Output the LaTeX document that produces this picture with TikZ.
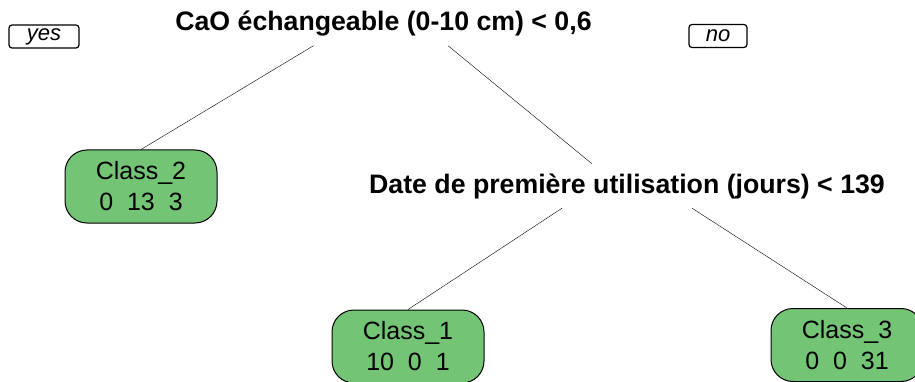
\documentclass[tikz,border=0pt]{standalone}
\usepackage{fontspec}
\setmainfont{Liberation Sans}
\usepackage{tikz}
\definecolor{leafgreen}{RGB}{116,196,118}
\tikzset{
  leaf/.style={draw, line width=1pt, fill=leafgreen, rounded corners=22pt,
    minimum width=152pt, minimum height=73pt, align=center, inner sep=0pt,
    font=\fontsize{25}{31}\selectfont},
  split/.style={inner sep=0pt, minimum height=44pt,
    font=\fontsize{26.7}{30}\selectfont\bfseries},
  yesno/.style={draw, line width=1.2pt, rounded corners=3pt, minimum height=23pt,
    inner sep=0pt, font=\fontsize{22}{24}\selectfont\itshape},
}

\begin{document}
\begin{tikzpicture}[x=1pt, y=-1pt]
    \useasboundingbox (0,0) rectangle (915,382);

    \node [split] (root) at (383.5,23.5) {CaO échangeable (0-10 cm) < 0,6};
    \node [split] (date) at (627,186) {Date de première utilisation (jours) < 139};

    \node [yesno, minimum width=70pt] (yes) at (44,36.5) {yes};
    \node [yesno, minimum width=58pt] (no) at (718,36) {no};

    \node [leaf] (class2) at (141,186.5) {Class\_2\\0~~13~~3};
    \node [leaf] (class1) at (408,346.5) {Class\_1\\10~~0~~1};
    \node [leaf] (class3) at (847,345) {Class\_3\\0~~0~~31};

    \draw ([xshift=-70pt]root.south) -- (class2.north);
    \draw ([xshift=64.5pt]root.south) -- ([xshift=-35pt]date.north);
    \draw ([xshift=-65pt]date.south) -- (class1.north);
    \draw ([xshift=65pt]date.south) -- (class3.north);

  \end{tikzpicture}
\end{document}
